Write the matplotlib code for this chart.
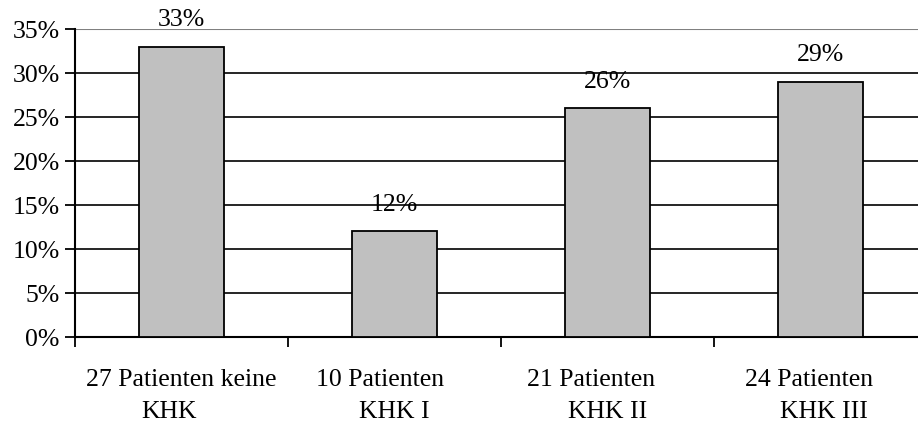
import matplotlib
matplotlib.use("Agg")
import matplotlib.pyplot as plt
import matplotlib.transforms as mtransforms
import numpy as np

first_lines = ["27 Patienten keine", "10 Patienten", "21 Patienten", "24 Patienten"]
second_lines = ["KHK", "KHK I", "KHK II", "KHK III"]
values = [33, 12, 26, 29]
yticks = [0, 5, 10, 15, 20, 25, 30, 35]

plt.rcParams["font.family"] = ["Liberation Serif", "DejaVu Serif"]
FS = 18.5

fig = plt.figure(figsize=(9.18, 4.26), dpi=100)
W, H = 918, 426
left, right, top, bottom = 75, 927, 29, 337
ax = fig.add_axes([left / W, 1 - bottom / H, (right - left) / W, (bottom - top) / H])

x = np.arange(len(values))
ax.bar(x, values, width=0.40, color="#c0c0c0", edgecolor="black", linewidth=1.3, zorder=3)

for xi, v in zip(x, values):
    ax.annotate(f"{v}%", (xi, v), xytext=(0, 19), textcoords="offset points",
                ha="center", va="center", fontsize=FS)

ax.set_xlim(-0.5, len(values) - 0.5)
ax.set_ylim(0, 35)
ax.set_yticks(yticks)
ax.set_yticklabels([f"{t}%" for t in yticks], fontsize=FS)

for t in yticks[1:-1]:
    ax.axhline(t, color="black", linewidth=1.2, zorder=1)
ax.axhline(35, color="#808080", linewidth=1.5, zorder=1)

ax.set_xticks(np.arange(-0.5, len(values) - 0.4, 1.0))
ax.set_xticklabels([])
ax.tick_params(axis="x", length=7, width=1.3, direction="out")
ax.tick_params(axis="y", length=7, width=1.3, direction="out", pad=4)

# wrapped category labels, each line centred with its own small shift (pixels)
shift1 = [0, -14, -16, -11]
shift2 = [-12, 0, 0, 3]
base = ax.get_xaxis_transform()
for xi, l1, l2, s1, s2 in zip(x, first_lines, second_lines, shift1, shift2):
    t1 = base + mtransforms.ScaledTranslation(s1 / 100, -48.5 / 100, fig.dpi_scale_trans)
    t2 = base + mtransforms.ScaledTranslation(s2 / 100, -81.5 / 100, fig.dpi_scale_trans)
    ax.text(xi, 0, l1, transform=t1, ha="center", va="baseline", fontsize=FS)
    ax.text(xi, 0, l2, transform=t2, ha="center", va="baseline", fontsize=FS)

for s in ["top", "right"]:
    ax.spines[s].set_visible(False)
ax.spines["left"].set_linewidth(1.5)
ax.spines["bottom"].set_linewidth(1.5)

fig.savefig("out.png", dpi=100)
